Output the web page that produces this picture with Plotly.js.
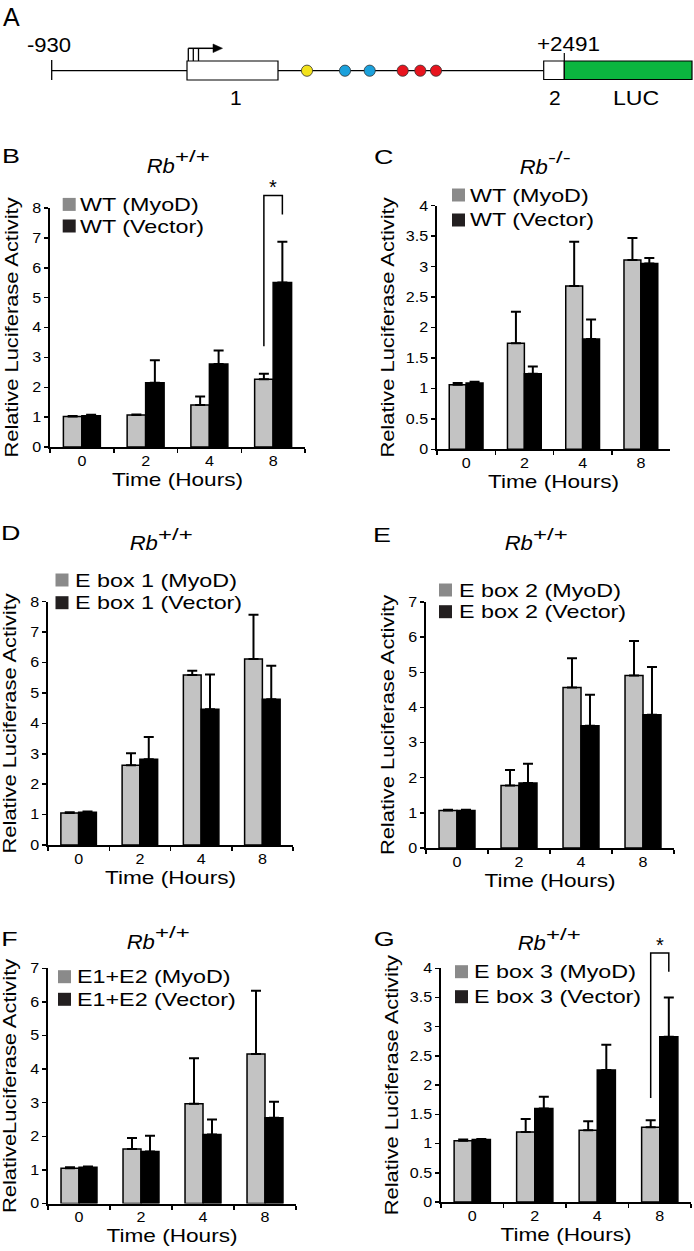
<!DOCTYPE html>
<html><head><meta charset="utf-8">
<script src="https://cdn.plot.ly/plotly-3.0.1.min.js"></script>
<style>body{margin:0;background:#fff}#chart{width:694px;height:1251px}</style>
</head><body><div id="chart"></div>
<script>
// ---------- DATA ----------
const categories = ['0', '2', '4', '8'];

// B: Rb+/+, WT
const myodB = [1.02, 1.07, 1.41, 2.27];
const myodErrB = [0.02, 0.02, 0.28, 0.18];
const vectorB = [1.05, 2.15, 2.78, 5.51];
const vectorErrB = [0.03, 0.75, 0.45, 1.36];
// C: Rb-/-, WT
const myodC = [1.06, 1.74, 2.68, 3.11];
const myodErrC = [0.03, 0.52, 0.73, 0.36];
const vectorC = [1.09, 1.24, 1.81, 3.05];
const vectorErrC = [0.02, 0.12, 0.32, 0.09];
// D: Rb+/+, E box 1
const myodD = [1.05, 2.62, 5.59, 6.12];
const myodErrD = [0.03, 0.40, 0.14, 1.45];
const vectorD = [1.08, 2.82, 4.46, 4.79];
const vectorErrD = [0.02, 0.73, 1.15, 1.10];
// E: Rb+/+, E box 2
const myodE = [1.07, 1.78, 4.57, 4.91];
const myodErrE = [0.02, 0.44, 0.83, 0.98];
const vectorE = [1.07, 1.85, 3.48, 3.79];
const vectorErrE = [0.02, 0.55, 0.88, 1.36];
// F: Rb+/+, E1+E2
const myodF = [1.05, 1.62, 2.97, 4.45];
const myodErrF = [0.03, 0.33, 1.35, 1.88];
const vectorF = [1.08, 1.55, 2.05, 2.55];
const vectorErrF = [0.02, 0.47, 0.45, 0.48];
// G: Rb+/+, E box 3
const myodG = [1.05, 1.20, 1.23, 1.28];
const myodErrG = [0.02, 0.22, 0.15, 0.12];
const vectorG = [1.07, 1.60, 2.26, 2.83];
const vectorErrG = [0.01, 0.20, 0.43, 0.67];

// significance brackets (y values: left foot, top, top, right foot) and star level
const bracketB = [3.37, 8.42, 8.42, 7.78];
const starB = 8.70;
const bracketG = [1.78, 4.26, 4.26, 3.94];
const starG = 4.40;

const legendB = ['WT (MyoD)', 'WT (Vector)'];
const legendC = ['WT (MyoD)', 'WT (Vector)'];
const legendD = ['E box 1 (MyoD)', 'E box 1 (Vector)'];
const legendE = ['E box 2 (MyoD)', 'E box 2 (Vector)'];
const legendF = ['E1+E2 (MyoD)', 'E1+E2 (Vector)'];
const legendG = ['E box 3 (MyoD)', 'E box 3 (Vector)'];

// ---------- LAYOUT HELPERS ----------
const W = 694, H = 1251;
const FONT = 'Liberation Sans, Arial, Helvetica, sans-serif';
const BARGAP = 0.42;
const MYOD_BAR = '#c3c3c3', VEC_BAR = '#000000';
const MYOD_KEY = '#8a8a8a', VEC_KEY = '#231f20';
const px = v => v / W;
const py = v => 1 - v / H;

const panels = [
  {n: 1, letter: 'B', lpos: [10.5, 155.8], genotype: '+/+', tpos: [176.7, 164.2],
   box: [50, 305, 208, 447], ymax: 8, dtick: 1, ytitle: 'Relative Luciferase Activity',
   myod: myodB, myodErr: myodErrB, vec: vectorB, vecErr: vectorErrB, names: legendB,
   key: {x: 62.7, rows: [204.4, 226], tx: 78}},
  {n: 2, letter: 'C', lpos: [383, 156], genotype: '-/-', tpos: [550, 165],
   box: [437, 670, 205.7, 449.3], ymax: 4, dtick: 0.5, ytitle: 'Relative Luciferase Activity',
   myod: myodC, myodErr: myodErrC, vec: vectorC, vecErr: vectorErrC, names: legendC,
   key: {x: 452, rows: [195, 220], tx: 468}},
  {n: 3, letter: 'D', lpos: [10, 532], genotype: '+/+', tpos: [160, 541.7],
   box: [48, 293, 601.7, 845], ymax: 8, dtick: 1, ytitle: 'Relative Luciferase Activity',
   myod: myodD, myodErr: myodErrD, vec: vectorD, vecErr: vectorErrD, names: legendD,
   key: {x: 55.5, rows: [580, 602.7], tx: 72.7}},
  {n: 4, letter: 'E', lpos: [382.5, 534], genotype: '+/+', tpos: [535, 541.7],
   box: [426, 674, 602, 848], ymax: 7, dtick: 1, ytitle: 'Relative Luciferase Activity',
   myod: myodE, myodErr: myodErrE, vec: vectorE, vecErr: vectorErrE, names: legendE,
   key: {x: 439, rows: [590, 611.7], tx: 457}},
  {n: 5, letter: 'F', lpos: [9, 938], genotype: '+/+', tpos: [156.7, 940],
   box: [48, 296, 968.3, 1203.5], ymax: 7, dtick: 1, ytitle: 'RelativeLuciferase Activity',
   myod: myodF, myodErr: myodErrF, vec: vectorF, vecErr: vectorErrF, names: legendF,
   key: {x: 58, rows: [976.7, 999.3], tx: 75}},
  {n: 6, letter: 'G', lpos: [384, 938], genotype: '+/+', tpos: [548.3, 941.7],
   box: [441, 691, 968.3, 1202], ymax: 4, dtick: 0.5, ytitle: 'Relative Luciferase Activity',
   myod: myodG, myodErr: myodErrG, vec: vectorG, vecErr: vectorErrG, names: legendG,
   key: {x: 455, rows: [971.7, 996.7], tx: 471.7}}
];

const data = [];
const layout = {
  width: W, height: H, margin: {l: 0, r: 0, t: 0, b: 0},
  paper_bgcolor: '#fff', plot_bgcolor: 'rgba(0,0,0,0)',
  barmode: 'group', bargap: BARGAP, bargroupgap: 0,
  showlegend: false, font: {family: FONT, color: '#000'},
  shapes: [], annotations: []
};
const annStretch = [];
function ann(o, s) {
  const base = {showarrow: false, xref: 'paper', yref: 'paper', xanchor: 'center', yanchor: 'middle'};
  const a = Object.assign(base, o);
  a.font = Object.assign({family: FONT, size: 21, color: '#000'}, o.font || {});
  layout.annotations.push(a);
  annStretch.push(s || 1);
}
function errSpec(arr) {
  return {type: 'data', symmetric: false, array: arr, arrayminus: [], color: '#000', thickness: 2, width: 5};
}

panels.forEach(p => {
  const sx = p.n === 1 ? '' : String(p.n);
  const [l, r, t, b] = p.box;
  data.push({type: 'bar', name: p.names[0], x: categories, y: p.myod, xaxis: 'x' + sx, yaxis: 'y' + sx,
    marker: {color: MYOD_BAR, line: {color: '#000', width: 1.5}}, error_y: errSpec(p.myodErr), hoverinfo: 'skip'});
  data.push({type: 'bar', name: p.names[1], x: categories, y: p.vec, xaxis: 'x' + sx, yaxis: 'y' + sx,
    marker: {color: VEC_BAR, line: {color: '#000', width: 1.5}}, error_y: errSpec(p.vecErr), hoverinfo: 'skip'});
  layout['xaxis' + sx] = {
    domain: [px(l), px(r)], anchor: 'y' + sx, type: 'category', categoryorder: 'array', categoryarray: categories,
    range: [-0.5, 3.5], tickson: 'boundaries', ticks: 'outside', ticklen: 4, tickwidth: 1.5, tickcolor: '#000',
    showline: true, linewidth: 2, linecolor: '#000', showgrid: false, zeroline: false, fixedrange: true,
    tickfont: {family: FONT, size: 14, color: '#000'},
    title: {text: 'Time (Hours)', font: {family: FONT, size: 19, color: '#000'}, standoff: 4}
  };
  layout['yaxis' + sx] = {
    domain: [py(b), py(t)], anchor: 'x' + sx, range: [0, p.ymax], tick0: 0, dtick: p.dtick,
    ticks: 'outside', ticklen: 4, tickwidth: 1.5, tickcolor: '#000',
    showline: true, linewidth: 2, linecolor: '#000', showgrid: false, zeroline: false, fixedrange: true,
    tickfont: {family: FONT, size: 14, color: '#000'},
    title: {text: p.ytitle, font: {family: FONT, size: 17.5, color: '#000'}, standoff: 10}
  };
  // panel letter
  ann({x: px(p.lpos[0]), y: py(p.lpos[1]), text: p.letter, font: {size: 21}}, 1.28);
  // panel title: italic "Rb" followed by raised genotype
  ann({x: px(p.tpos[0]), y: py(p.tpos[1] + 1), xanchor: 'right', align: 'right', text: 'Rb',
    font: {size: 21, style: 'italic'}}, 1.05);
  ann({x: px(p.tpos[0] - 4), y: py(p.tpos[1] - 7.5), xanchor: 'left', align: 'left', text: p.genotype,
    font: {size: 16}}, 1.5);
  // key
  const colors = [MYOD_KEY, VEC_KEY];
  p.key.rows.forEach((ry, i) => {
    layout.shapes.push({type: 'rect', xref: 'paper', yref: 'paper', x0: px(p.key.x), x1: px(p.key.x + 13),
      y0: py(ry + 6.5), y1: py(ry - 6.5), fillcolor: colors[i], line: {width: 0}});
    ann({x: px(p.key.tx), y: py(ry), xanchor: 'left', align: 'left', text: p.names[i], font: {size: 18.5}}, 1.26);
  });
});

// significance brackets on helper axes that extend above the plotting area
function bracket(sx, p, yvals, star) {
  const [l, r, t, b] = p.box;
  const topPx = t - 43;
  layout['xaxis' + sx] = {domain: [px(l), px(r)], anchor: 'y' + sx, range: [-0.5, 3.5], visible: false, fixedrange: true};
  layout['yaxis' + sx] = {domain: [py(b), py(topPx)], anchor: 'x' + sx,
    range: [0, p.ymax * (b - topPx) / (b - t)], visible: false, fixedrange: true};
  const ci = categories.indexOf('8');
  const off = (1 - BARGAP) / 4;
  data.push({type: 'scatter', mode: 'lines', x: [ci - off, ci - off, ci + off, ci + off], y: yvals,
    xaxis: 'x' + sx, yaxis: 'y' + sx, line: {color: '#000', width: 1.5}, hoverinfo: 'skip', showlegend: false});
  ann({xref: 'x' + sx, yref: 'y' + sx, x: ci, y: star, text: '*', font: {size: 20}}, 1);
}
bracket('7', panels[0], bracketB, starB);
bracket('8', panels[5], bracketG, starG);

// ---------- PANEL A: construct diagram ----------
function line(x0, y0, x1, y1, w) {
  layout.shapes.push({type: 'line', xref: 'paper', yref: 'paper', x0: px(x0), y0: py(y0), x1: px(x1), y1: py(y1),
    line: {color: '#000', width: w || 1.3}});
}
function rect(x0, y0, x1, y1, fill) {
  layout.shapes.push({type: 'rect', xref: 'paper', yref: 'paper', x0: px(x0), y0: py(y1), x1: px(x1), y1: py(y0),
    fillcolor: fill, line: {color: '#000', width: 1.2}});
}
function dot(cx, cy, r, fill) {
  layout.shapes.push({type: 'circle', xref: 'paper', yref: 'paper', x0: px(cx - r), x1: px(cx + r),
    y0: py(cy + r), y1: py(cy - r), fillcolor: fill, line: {color: '#333', width: 0.8}});
}
const lineY = 70.7;
line(51.7, lineY, 187, lineY);
line(51.7, 60, 51.7, 80);
line(278, lineY, 543.7, lineY);
rect(187, 61, 278, 80, '#fff');
rect(543.7, 61, 564.3, 79.5, '#fff');
rect(564.3, 61, 692, 79.5, '#0bb53f');
line(564.3, 53, 564.3, 61, 1.2);
// promoter arrow
line(188.3, 61, 188.3, 48.3, 1.3);
line(193.3, 61, 193.3, 48.3, 1.3);
line(198.5, 61, 198.5, 48.3, 1.3);
line(188.3, 48.3, 214, 48.3, 1.5);
layout.shapes.push({type: 'path', xref: 'paper', yref: 'paper',
  path: 'M' + px(213) + ',' + py(44) + ' L' + px(222.5) + ',' + py(48.3) + ' L' + px(213) + ',' + py(52.6) + ' Z',
  fillcolor: '#000', line: {color: '#000', width: 0.5}});
const eboxX = [307, 345, 369.7, 402.7, 420.3, 436];
const eboxC = ['#f3e21b', '#1ba1dc', '#1ba1dc', '#e8141e', '#e8141e', '#e8141e'];
eboxX.forEach((x, i) => dot(x, lineY, 5.6, eboxC[i]));

ann({x: px(11), y: py(17.5), text: 'A', font: {size: 25}}, 1);
ann({x: px(49), y: py(44), text: '-930', font: {size: 21}}, 1.05);
ann({x: px(568), y: py(43.5), text: '+2491', font: {size: 21}}, 1.07);
ann({x: px(235.5), y: py(97), text: '1', font: {size: 21}}, 1);
ann({x: px(555), y: py(97), text: '2', font: {size: 21}}, 1);
ann({x: px(635.5), y: py(97), text: 'LUC', font: {size: 21}}, 1.1);

// ---------- RENDER ----------
const gd = document.getElementById('chart');
const TICK_STRETCH = 1.15, XT_STRETCH = 1.19, YT_STRETCH = 1.25;
function stretchTexts() {
  gd.querySelectorAll('text').forEach(t => {
    let f = 1;
    const pc = (t.parentNode && t.parentNode.getAttribute && t.parentNode.getAttribute('class')) || '';
    const c = t.getAttribute('class') || '';
    if (/^[xy]\d*tick$/.test(pc)) f = TICK_STRETCH;
    else if (/^x\d*title$/.test(c)) f = XT_STRETCH;
    else if (/^y\d*title$/.test(c)) f = YT_STRETCH;
    else {
      const a = t.closest('g.annotation');
      if (a) f = annStretch[+a.getAttribute('data-index')] || 1;
    }
    if (f !== 1) {
      const L = t.getComputedTextLength();
      if (L > 0) {
        t.setAttribute('textLength', (L * f).toFixed(2));
        t.setAttribute('lengthAdjust', 'spacingAndGlyphs');
      }
    }
  });
}
Plotly.newPlot(gd, data, layout, {displayModeBar: false, staticPlot: true}).then(stretchTexts);
</script>
</body></html>
